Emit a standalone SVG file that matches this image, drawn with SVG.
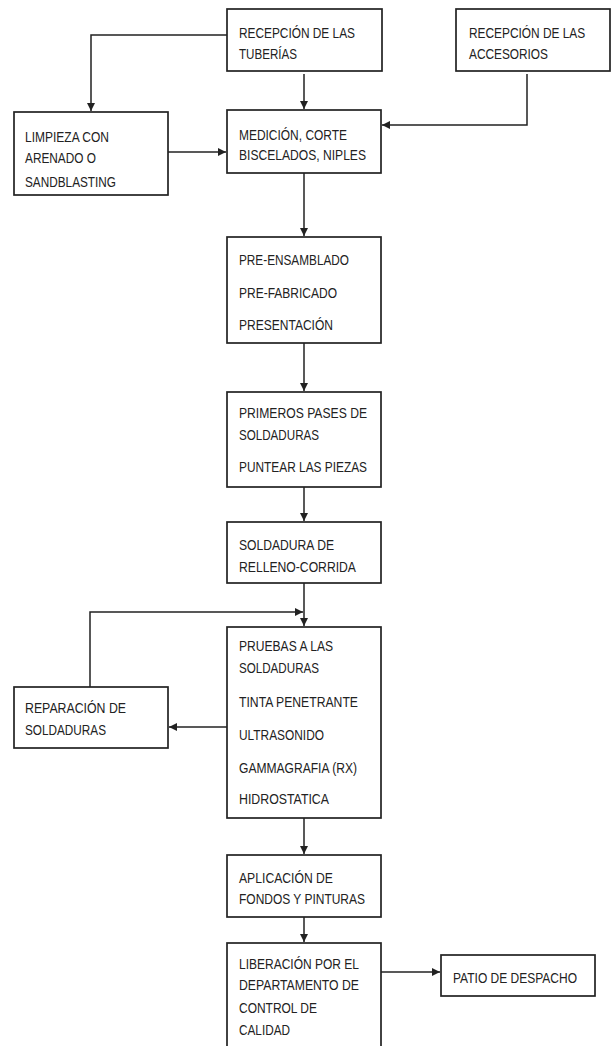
<svg xmlns="http://www.w3.org/2000/svg" width="613" height="1046" viewBox="0 0 613 1046">
<style>
.box{fill:#fff;stroke:#222;stroke-width:1.7}
.t{font-family:"Liberation Sans",Arial,sans-serif;font-size:15px;fill:#222}
.c{fill:none;stroke:#222;stroke-width:1.5}
</style>
<defs>
<marker id="ah" markerUnits="userSpaceOnUse" markerWidth="9" markerHeight="9" refX="8" refY="4" orient="auto">
<path d="M0,0 L8,4 L0,8 z" fill="#222"/>
</marker>
</defs>
<rect width="613" height="1046" fill="#fff"/>
<g id="connectors">
<path class="c" d="M227,35 H91 V111" marker-end="url(#ah)"/>
<path class="c" d="M304,74 V109" marker-end="url(#ah)"/>
<path class="c" d="M527,74 V125 H382" marker-end="url(#ah)"/>
<path class="c" d="M168,152 H226" marker-end="url(#ah)"/>
<path class="c" d="M304,173 V236" marker-end="url(#ah)"/>
<path class="c" d="M304,343 V391" marker-end="url(#ah)"/>
<path class="c" d="M304,487 V521" marker-end="url(#ah)"/>
<path class="c" d="M304,583 V626" marker-end="url(#ah)"/>
<path class="c" d="M90,687 V612 H303" marker-end="url(#ah)"/>
<path class="c" d="M227,727 H169" marker-end="url(#ah)"/>
<path class="c" d="M304,818 V854" marker-end="url(#ah)"/>
<path class="c" d="M304,917 V942" marker-end="url(#ah)"/>
<path class="c" d="M381,972 H440" marker-end="url(#ah)"/>
</g>
<g id="n1"><rect class="box" x="227" y="9" width="155" height="62"/>
<text class="t" x="239" y="38" textLength="116" lengthAdjust="spacingAndGlyphs">RECEPCIÓN DE LAS</text>
<text class="t" x="239" y="59" textLength="58" lengthAdjust="spacingAndGlyphs">TUBERÍAS</text></g>
<g id="n2"><rect class="box" x="456" y="9" width="154" height="62"/>
<g transform="translate(469,0) scale(0.79,1)">
<text class="t" x="0" y="38" textLength="147" lengthAdjust="spacingAndGlyphs">RECEPCIÓN DE LAS</text>
<text class="t" x="0" y="59" textLength="100" lengthAdjust="spacingAndGlyphs">ACCESORIOS</text></g></g>
<g id="n3"><rect class="box" x="14" y="112" width="154" height="83"/>
<text class="t" x="25" y="142" textLength="84" lengthAdjust="spacingAndGlyphs">LIMPIEZA CON</text>
<text class="t" x="25" y="163" textLength="71" lengthAdjust="spacingAndGlyphs">ARENADO O</text>
<text class="t" x="25" y="187" textLength="91" lengthAdjust="spacingAndGlyphs">SANDBLASTING</text></g>
<g id="n4"><rect class="box" x="227" y="110" width="154" height="63"/>
<text class="t" x="239" y="140" textLength="108" lengthAdjust="spacingAndGlyphs">MEDICIÓN, CORTE</text>
<text class="t" x="239" y="160" textLength="127" lengthAdjust="spacingAndGlyphs">BISCELADOS, NIPLES</text></g>
<g id="n5"><rect class="box" x="227" y="237" width="154" height="106"/>
<text class="t" x="239" y="265" textLength="110" lengthAdjust="spacingAndGlyphs">PRE-ENSAMBLADO</text>
<text class="t" x="239" y="298" textLength="98" lengthAdjust="spacingAndGlyphs">PRE-FABRICADO</text>
<text class="t" x="239" y="330" textLength="94" lengthAdjust="spacingAndGlyphs">PRESENTACIÓN</text></g>
<g id="n6"><rect class="box" x="227" y="392" width="154" height="95"/>
<text class="t" x="239" y="418" textLength="128" lengthAdjust="spacingAndGlyphs">PRIMEROS PASES DE</text>
<text class="t" x="239" y="440" textLength="80" lengthAdjust="spacingAndGlyphs">SOLDADURAS</text>
<text class="t" x="239" y="472" textLength="128" lengthAdjust="spacingAndGlyphs">PUNTEAR LAS PIEZAS</text></g>
<g id="n7"><rect class="box" x="227" y="522" width="154" height="61"/>
<text class="t" x="239" y="550" textLength="95" lengthAdjust="spacingAndGlyphs">SOLDADURA DE</text>
<text class="t" x="239" y="572" textLength="117" lengthAdjust="spacingAndGlyphs">RELLENO-CORRIDA</text></g>
<g id="n8"><rect class="box" x="227" y="627" width="154" height="191"/>
<text class="t" x="239" y="651" textLength="94" lengthAdjust="spacingAndGlyphs">PRUEBAS A LAS</text>
<text class="t" x="239" y="673" textLength="80" lengthAdjust="spacingAndGlyphs">SOLDADURAS</text>
<text class="t" x="239" y="707" textLength="119" lengthAdjust="spacingAndGlyphs">TINTA PENETRANTE</text>
<text class="t" x="239" y="740" textLength="85" lengthAdjust="spacingAndGlyphs">ULTRASONIDO</text>
<text class="t" x="239" y="773" textLength="118" lengthAdjust="spacingAndGlyphs">GAMMAGRAFIA (RX)</text>
<text class="t" x="239" y="804" textLength="90" lengthAdjust="spacingAndGlyphs">HIDROSTATICA</text></g>
<g id="n9"><rect class="box" x="14" y="687" width="154" height="61"/>
<text class="t" x="25" y="713" textLength="101" lengthAdjust="spacingAndGlyphs">REPARACIÓN DE</text>
<text class="t" x="25" y="735" textLength="81" lengthAdjust="spacingAndGlyphs">SOLDADURAS</text></g>
<g id="n10"><rect class="box" x="227" y="855" width="154" height="62"/>
<text class="t" x="239" y="883" textLength="94" lengthAdjust="spacingAndGlyphs">APLICACIÓN DE</text>
<text class="t" x="239" y="904" textLength="126" lengthAdjust="spacingAndGlyphs">FONDOS Y PINTURAS</text></g>
<g id="n11"><rect class="box" x="227" y="943" width="154" height="112"/>
<text class="t" x="239" y="969" textLength="120" lengthAdjust="spacingAndGlyphs">LIBERACIÓN POR EL</text>
<text class="t" x="239" y="990" textLength="120" lengthAdjust="spacingAndGlyphs">DEPARTAMENTO DE</text>
<text class="t" x="239" y="1013" textLength="78" lengthAdjust="spacingAndGlyphs">CONTROL DE</text>
<text class="t" x="239" y="1035" textLength="51" lengthAdjust="spacingAndGlyphs">CALIDAD</text></g>
<g id="n12"><rect class="box" x="441" y="955" width="154" height="41"/>
<text class="t" x="453" y="983" textLength="124" lengthAdjust="spacingAndGlyphs">PATIO DE DESPACHO</text></g>
</svg>
